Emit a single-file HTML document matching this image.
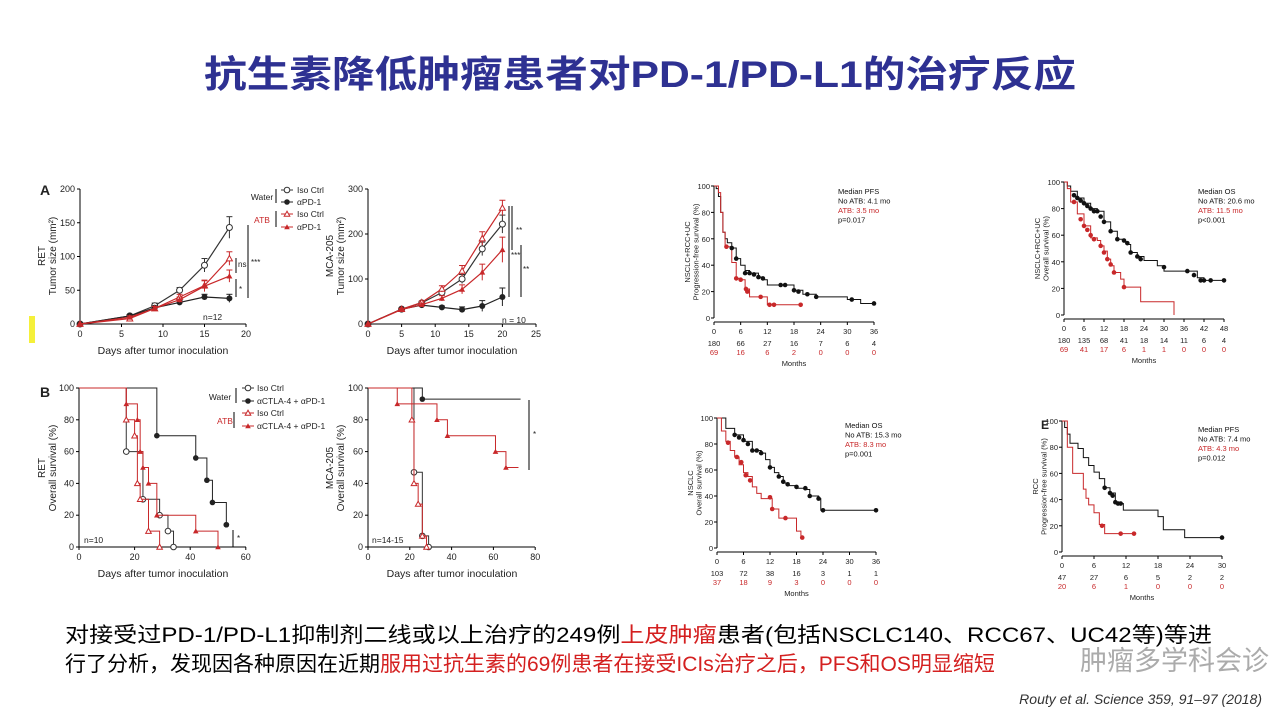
<!DOCTYPE html>
<html><head><meta charset="utf-8">
<style>
html,body{margin:0;padding:0;background:#fff;}
svg{display:block;font-family:"Liberation Sans","Noto Sans CJK SC",sans-serif;}
</style></head>
<body>
<svg id="s" width="1280" height="720" viewBox="0 0 1280 720" xmlns="http://www.w3.org/2000/svg">
<text x="640" y="87" text-anchor="middle" font-size="37" font-weight="bold" fill="#2e3192" textLength="872" lengthAdjust="spacingAndGlyphs">抗生素降低肿瘤患者对PD-1/PD-L1的治疗反应</text>
<rect x="29" y="316" width="6" height="27" fill="#f5f03a"/>
<g font-size="21">
<text x="65" y="642" textLength="1147" lengthAdjust="spacingAndGlyphs">对接受过PD-1/PD-L1抑制剂二线或以上治疗的249例<tspan fill="#d42020">上皮肿瘤</tspan>患者(包括NSCLC140、RCC67、UC42等)等进</text>
<text x="65" y="671">行了分析，发现因各种原因在近期<tspan fill="#d42020">服用过抗生素的69例患者在接受ICIs治疗之后，PFS和OS明显缩短</tspan></text>
</g>
<text x="1080" y="670" font-size="27" fill="#888" opacity="0.7">肿瘤多学科会诊</text>
<text x="1262" y="704" text-anchor="end" font-size="14" font-style="italic" fill="#333">Routy et al. Science 359, 91–97 (2018)</text>
<g id="g"></g>
</svg>
<script>
const g=document.getElementById('g');const NS='http://www.w3.org/2000/svg';
function el(t,a,txt){const e=document.createElementNS(NS,t);for(const k in a)e.setAttribute(k,a[k]);if(txt!==undefined)e.textContent=txt;g.appendChild(e);return e;}
function line(x1,y1,x2,y2,c='#000',w=1){el('line',{x1,y1,x2,y2,stroke:c,'stroke-width':w});}
function txt(x,y,s,o={}){return el('text',Object.assign({x,y,'font-size':9,fill:'#222'},o),s);}
const R='#c8282a';
function axes(P){
 const {x0,x1,y0,y1,xt,yt,fx,fy}=P;
 line(x0,y0,x0,y1);line(x0,y0,x1,y0);
 xt.forEach(v=>{const X=fx(v);line(X,y0,X,y0+3);txt(X,y0+13,v,{'text-anchor':'middle','font-size':P.fs||9});});
 yt.forEach(v=>{const Y=fy(v);line(x0-3,Y,x0,Y);txt(x0-5,Y+3,v,{'text-anchor':'end','font-size':P.fs||9});});
}
function ylab(x,y,lines,fs){lines.forEach((l,i)=>{txt(0,0,l,{'font-size':fs,'text-anchor':'middle',transform:`translate(${x+i*(fs+1)},${y}) rotate(-90)`});});}
function step(pts,fx,fy,c,w=1){let d='';pts.forEach((p,i)=>{const X=fx(p[0]),Y=fy(p[1]);if(i==0)d='M'+X+' '+Y;else{d+=' H'+X+' V'+Y;}});el('path',{d,fill:'none',stroke:c,'stroke-width':w});}
function poly(pts,fx,fy,c){el('polyline',{points:pts.map(p=>fx(p[0])+','+fy(p[1])).join(' '),fill:'none',stroke:c,'stroke-width':1.2});}
function mk(type,X,Y,c,r=3){
 if(type=='o')el('circle',{cx:X,cy:Y,r,fill:'#fff',stroke:c,'stroke-width':1});
 if(type=='O')el('circle',{cx:X,cy:Y,r,fill:c});
 if(type=='t')el('polygon',{points:`${X},${Y-r} ${X-r},${Y+r*0.8} ${X+r},${Y+r*0.8}`,fill:'#fff',stroke:c,'stroke-width':1});
 if(type=='T')el('polygon',{points:`${X},${Y-r} ${X-r},${Y+r*0.8} ${X+r},${Y+r*0.8}`,fill:c});
}
// ---- Panel A left
{const fx=d=>80+8.3*d,fy=v=>324-0.675*v;
axes({x0:80,x1:246,y0:324,y1:189,xt:[0,5,10,15,20],yt:[0,50,100,150,200],fx,fy});
txt(40,195,'A',{'font-size':14,'font-weight':'bold'});
ylab(45,256,['RET','Tumor size (mm²)'],10);
txt(163,354,'Days after tumor inoculation',{'text-anchor':'middle','font-size':10.5});
txt(203,320,'n=12',{'font-size':8.5});
const S=[['o','#333',[[0,0],[6,12],[9,27],[12,50],[15,87],[18,143]],[0,2,4,4,10,16]],
['O','#222',[[0,0],[6,12],[9,24],[12,32],[15,40],[18,38]],[0,2,3,3,4,6]],
['t',R,[[0,0],[6,8],[9,23],[12,40],[15,57],[18,97]],[0,2,3,4,8,10]],
['T',R,[[0,0],[6,10],[9,23],[12,36],[15,56],[18,71]],[0,2,3,4,8,9]]];
S.forEach(([m,c,p,e])=>{poly(p,fx,fy,c);p.forEach((q,i)=>{if(e[i]){line(fx(q[0]),fy(q[1]-e[i]),fx(q[0]),fy(q[1]+e[i]),c);line(fx(q[0])-3,fy(q[1]+e[i]),fx(q[0])+3,fy(q[1]+e[i]),c);}mk(m,fx(q[0]),fy(q[1]),c);});});
line(236,258,236,273);txt(238,267,'ns',{'font-size':8});line(236,279,236,297);txt(239,292,'*',{'font-size':8});
line(248,225,248,298);txt(251,265,'***',{'font-size':8});
txt(262,200,'Water',{'font-size':8.5,'text-anchor':'middle'});line(276,189,276,203);
txt(262,223,'ATB',{'font-size':8.5,fill:R,'text-anchor':'middle'});line(276,211,276,227);
[['o','#333','Iso Ctrl',190],['O','#222','αPD-1',202],['t',R,'Iso Ctrl',214],['T',R,'αPD-1',227]].forEach(([m,c,l,y])=>{line(281,y,293,y,c);mk(m,287,y,c,2.8);txt(297,y+3,l,{'font-size':8.5});});
}
// ---- Panel A right
{const fx=d=>368+6.72*d,fy=v=>324-0.45*v;
axes({x0:368,x1:536,y0:324,y1:189,xt:[0,5,10,15,20,25],yt:[0,100,200,300],fx,fy});
ylab(333,256,['MCA-205','Tumor size (mm²)'],10);
txt(452,354,'Days after tumor inoculation',{'text-anchor':'middle','font-size':10.5});
txt(502,323,'n = 10',{'font-size':8.5});
const S=[['o','#333',[[0,0],[5,33],[8,47],[11,70],[14,100],[17,167],[20,222]],[0,2,3,5,10,15,20]],
['O','#222',[[0,0],[5,33],[8,42],[11,37],[14,32],[17,40],[20,60]],[0,2,3,3,6,12,20]],
['t',R,[[0,0],[5,33],[8,48],[11,78],[14,118],[17,190],[20,258]],[0,2,3,7,12,15,17]],
['T',R,[[0,0],[5,32],[8,43],[11,57],[14,77],[17,115],[20,165]],[0,2,3,6,10,18,28]]];
S.forEach(([m,c,p,e])=>{poly(p,fx,fy,c);p.forEach((q,i)=>{if(e[i]){line(fx(q[0]),fy(q[1]-e[i]),fx(q[0]),fy(q[1]+e[i]),c);line(fx(q[0])-3,fy(q[1]+e[i]),fx(q[0])+3,fy(q[1]+e[i]),c);}mk(m,fx(q[0]),fy(q[1]),c);});});
line(509,206,509,297);line(512,206,512,250);txt(516,233,'**',{'font-size':8});txt(511,258,'***',{'font-size':8});
line(521,245,521,297);txt(523,272,'**',{'font-size':8});
}
// ---- Panel B left
{const fx=d=>79+2.78*d,fy=p=>547-1.59*p;
axes({x0:79,x1:246,y0:547,y1:388,xt:[0,20,40,60],yt:[0,20,40,60,80,100],fx,fy});
txt(40,397,'B',{'font-size':14,'font-weight':'bold'});
ylab(45,468,['RET','Overall survival (%)'],10);
txt(163,577,'Days after tumor inoculation',{'text-anchor':'middle','font-size':10.5});
txt(84,543,'n=10',{'font-size':8.5});
const S=[['o','#333',[[0,100],[17,60],[23,30],[29,20],[32,10],[34,0]]],
['O','#222',[[0,100],[28,70],[42,56],[46,42],[48,28],[53,14],[53,14]]],
['t',R,[[0,100],[17,80],[20,70],[21,40],[22,30],[25,10],[29,0]]],
['T',R,[[0,100],[17,90],[21,80],[22,60],[23,50],[25,40],[28,20],[42,10],[50,0]]]];
S.forEach(([m,c,p])=>{step(p,fx,fy,c);p.slice(1).forEach(q=>mk(m,fx(q[0]),fy(q[1]),c,2.8));});
line(233,530,233,547);txt(237,541,'*',{'font-size':8});
txt(220,400,'Water',{'font-size':8.5,'text-anchor':'middle'});line(236,388,236,403);
txt(225,424,'ATB',{'font-size':8.5,fill:R,'text-anchor':'middle'});line(234,412,234,428);
[['o','#333','Iso Ctrl',388],['O','#222','αCTLA-4 + αPD-1',401],['t',R,'Iso Ctrl',413],['T',R,'αCTLA-4 + αPD-1',426]].forEach(([m,c,l,y])=>{line(242,y,254,y,c);mk(m,248,y,c,2.8);txt(257,y+3,l,{'font-size':8.5});});
}
// ---- Panel B right
{const fx=d=>368+2.09*d,fy=p=>547-1.59*p;
axes({x0:368,x1:535,y0:547,y1:388,xt:[0,20,40,60,80],yt:[0,20,40,60,80,100],fx,fy});
ylab(333,468,['MCA-205','Overall survival (%)'],10);
txt(452,577,'Days after tumor inoculation',{'text-anchor':'middle','font-size':10.5});
txt(372,543,'n=14-15',{'font-size':8.5});
const S=[['o','#333',[[0,100],[22,47],[26,7],[29,0]]],
['O','#222',[[0,100],[26,93],[73,93]]],
['t',R,[[0,100],[21,80],[22,40],[24,27],[26,7],[28,0]]],
['T',R,[[0,100],[14,90],[33,80],[38,70],[61,60],[66,50],[72,50]]]];
S.forEach(([m,c,p])=>{step(p,fx,fy,c);p.slice(1).forEach((q,i)=>{if(!(m=='O'&&i==1)&&!(m=='T'&&i==5))mk(m,fx(q[0]),fy(q[1]),c,2.8);});});
line(529,400,529,470);txt(533,437,'*',{'font-size':8});
}
// ---- KM panels
function km(P){
 const fx=m=>P.x0+(P.x1-P.x0)*m/P.max,fy=p=>P.yb-(P.yb-P.yt)*p/100;
 const ticks=[];for(let m=0;m<=P.max;m+=6)ticks.push(m);
 line(P.x0,P.yt,P.x0,P.yb);line(P.x0,P.yb+4,P.x1,P.yb+4);
 ticks.forEach(m=>{line(fx(m),P.yb+4,fx(m),P.yb+7);txt(fx(m),P.yb+16,m,{'text-anchor':'middle','font-size':7.5});});
 [0,20,40,60,80,100].forEach(p=>{line(P.x0-3,fy(p),P.x0,fy(p));txt(P.x0-4,fy(p)+3,p,{'text-anchor':'end','font-size':7.5});});
 P.nb.forEach((n,i)=>txt(fx(i*6),P.yb+28,n,{'text-anchor':'middle','font-size':7.5}));
 P.nr.forEach((n,i)=>txt(fx(i*6),P.yb+37,n,{'text-anchor':'middle','font-size':7.5,fill:R}));
 txt((P.x0+P.x1)/2,P.yb+48,'Months',{'text-anchor':'middle','font-size':7.5});
 ylab(P.x0-24,(P.yt+P.yb)/2,P.yl,7.5);
 step(P.b,fx,fy,'#111');step(P.r,fx,fy,R);
 P.bd.forEach(q=>mk('O',fx(q[0]),fy(q[1]),'#111',2.3));
 P.rd.forEach(q=>mk('O',fx(q[0]),fy(q[1]),R,2.3));
 P.leg.forEach((l,i)=>txt(P.lx,P.ly+i*9.5,l,{'font-size':7.5,fill:i==2?R:'#111'}));
}
km({x0:714,x1:874,max:36,yt:186,yb:318,yl:['NSCLC+RCC+UC','Progression-free survival (%)'],
 nb:[180,66,27,16,7,6,4],nr:[69,16,6,2,0,0,0],lx:838,ly:194,leg:['Median PFS','No ATB: 4.1 mo','ATB: 3.5 mo','p=0.017'],
 b:[[0,100],[0.5,98],[1,92],[1.5,80],[2,65],[2.5,60],[3,57],[4,53],[5,45],[6,40],[7,36],[8,34],[10,31],[11,29],[12,25],[15,25],[18,21],[20,18],[23,16],[30,14],[33,11],[36,11]],
 r:[[0,100],[1,95],[1.5,80],[2,65],[2.5,55],[3,54],[4,42],[5,30],[6,29],[7,22],[8,16],[10,16],[12,10],[19.5,10]],
 bd:[[4,53],[5,45],[7,34],[8,34],[9,33],[10,31],[11,30],[15,25],[16,25],[18,21],[19,20],[21,18],[23,16],[31,14],[36,11]],
 rd:[[2.8,54],[5,30],[6,29],[7.2,22],[7.5,20],[10.5,16],[12.5,10],[13.5,10],[19.5,10]]});
km({x0:1064,x1:1224,max:48,yt:182,yb:315,yl:['NSCLC+RCC+UC','Overall survival (%)'],
 nb:[180,135,68,41,18,14,11,6,4],nr:[69,41,17,6,1,1,0,0,0],lx:1198,ly:194,leg:['Median OS','No ATB: 20.6 mo','ATB: 11.5 mo','p<0.001'],
 b:[[0,100],[1,97],[2,93],[4,88],[6,84],[8,80],[10,78],[12,70],[14,63],[16,57],[18,55],[19,53],[20,47],[22,44],[24,41],[28,37],[30,33],[36,33],[40,28],[42,26],[48,26]],
 r:[[0,100],[1,95],[2,85],[4,76],[6,67],[8,58],[10,56],[11,52],[12,48],[13,42],[14,37],[15,32],[17,27],[18,21],[20,21],[23,10],[33,10],[33,0]],
 bd:[[3,90],[4,88],[5,86],[6,84],[7,82],[8,80],[9,78],[10,78],[11,74],[12,70],[14,63],[16,57],[18,56],[19,54],[20,47],[22,44],[23,42],[30,36],[37,33],[39,30],[41,26],[42,26],[44,26],[48,26]],
 rd:[[3,85],[5,72],[6,67],[7,64],[8,60],[9,57],[11,52],[12,47],[13,42],[14,38],[15,32],[18,21]]});
km({x0:717,x1:876,max:36,yt:418,yb:548,yl:['NSCLC','Overall survival (%)'],
 nb:[103,72,38,16,3,1,1],nr:[37,18,9,3,0,0,0],lx:845,ly:428,leg:['Median OS','No ATB: 15.3 mo','ATB: 8.3 mo','p=0.001'],
 b:[[0,100],[2,92],[4,87],[6,82],[8,75],[10,73],[11,68],[12,62],[13,58],[14,55],[15,50],[16,48],[18,46],[20,45],[21,40],[23,38],[23.5,29],[36,29]],
 r:[[0,100],[1,90],[2,82],[3,75],[4,70],[5,64],[6,58],[7,55],[8,47],[9,42],[10,38],[12,38],[12.5,30],[14,23],[16,23],[18,13],[19,8]],
 bd:[[4,87],[5,85],[6,83],[7,80],[8,75],[9,75],[10,73],[12,62],[14,55],[15,51],[16,49],[18,47],[20,46],[21,40],[23,38],[24,29],[36,29]],
 rd:[[2.5,81],[4.5,70],[5.5,66],[6.5,56],[7.5,52],[12,39],[12.5,30],[15.5,23],[19.3,8]]});
km({x0:1062,x1:1222,max:30,yt:421,yb:552,yl:['RCC','Progression-free survival (%)'],
 nb:[47,27,6,5,2,2],nr:[20,6,1,0,0,0],lx:1198,ly:432,leg:['Median PFS','No ATB: 7.4 mo','ATB: 4.3 mo','p=0.012'],
 b:[[0,100],[0.5,95],[1,90],[1.5,83],[3,79],[4,72],[5,66],[6,61],[7,56],[8,49],[9,45],[10,38],[11,37],[11.5,32],[18,27],[19,17],[23,11],[30,11]],
 r:[[0,100],[1,80],[2,60],[4,48],[4.5,41],[5,36],[6,30],[7,21],[8,14],[13.5,14]],
 bd:[[8,49],[9,45],[9.5,43],[10,38],[10.5,37],[11,37],[30,11]],
 rd:[[7.5,20],[11,14],[13.5,14]]});
txt(1041,429,'E',{'font-size':12,'font-weight':'bold'});
</script>
</body></html>
